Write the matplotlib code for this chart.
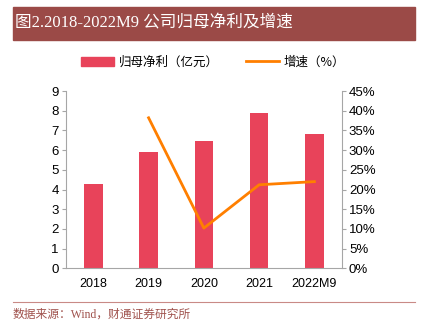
import matplotlib.pyplot as plt
from matplotlib.patches import Rectangle
from matplotlib.lines import Line2D

plt.rcParams['font.family'] = ['Liberation Sans', 'Noto Sans CJK SC', 'DejaVu Sans']

years = ["2018", "2019", "2020", "2021", "2022M9"]
profit = [4.26, 5.89, 6.48, 7.87, 6.82]          # 归母净利（亿元）
growth = [None, 38.2, 10.2, 21.2, 22.0]          # 增速（%）

bar_color = "#E8435A"
line_color = "#FF7F00"
grey = "#A6A6A6"

fig = plt.figure(figsize=(4.25, 3.33), dpi=100)
W, H = 425, 333

ax = fig.add_axes([65.7 / W, 1 - 268.3 / H, (342 - 65.7) / W, (268.3 - 91) / H])
x = list(range(len(years)))
ax.bar(x, profit, width=0.335, color=bar_color, zorder=2)
ax.set_xlim(-0.5, 4.5)
ax.set_ylim(0, 9)
ax.set_yticks(range(10))
ax.set_xticks(x)
ax.set_xticklabels(years)
ax.tick_params(axis='x', length=0, pad=7, labelsize=9)
ax.tick_params(axis='y', length=3, color=grey, pad=2, labelsize=9.5)
for s in ['top', 'right']:
    ax.spines[s].set_visible(False)
for s in ['left', 'bottom']:
    ax.spines[s].set_color(grey)
    ax.spines[s].set_linewidth(0.8)

ax2 = ax.twinx()
gx = [i for i, g in zip(x, growth) if g is not None]
gy = [g for g in growth if g is not None]
ax2.plot(gx, gy, color=line_color, lw=2, zorder=3)
ax2.set_ylim(0, 45)
ax2.set_yticks(range(0, 50, 5))
ax2.set_yticklabels([f"{v}%" for v in range(0, 50, 5)])
ax2.tick_params(axis='y', length=3, color=grey, pad=2, labelsize=9.5)
for s in ['top', 'left', 'bottom']:
    ax2.spines[s].set_visible(False)
ax2.spines['right'].set_color(grey)
ax2.spines['right'].set_linewidth(0.8)

# title bar
fig.patches.append(Rectangle((13 / W, 1 - 40 / H), (415 - 13) / W, 33 / H,
                             transform=fig.transFigure, color="#9B4A47", zorder=0))
fig.text(15 / W, 1 - 23 / H, "图2.2018-2022M9 公司归母净利及增速", color="white",
         fontsize=12, va='center', ha='left', family=['Liberation Serif', 'Noto Sans CJK SC'])

# legend
leg_items = [Rectangle((0, 0), 1, 1, color=bar_color),
             Line2D([0], [0], color=line_color, lw=2)]
fig.legend(leg_items, ["归母净利（亿元）", "增速（%）"], loc='center',
           bbox_to_anchor=(213 / W, 1 - 62 / H), ncol=2, frameon=False,
           handlelength=2.6, columnspacing=2.2, handletextpad=0.4,
           prop={'family': ['Noto Sans CJK SC'], 'size': 9})

# footer
fig.add_artist(Line2D([13 / W, 415 / W], [1 - 301.5 / H, 1 - 301.5 / H],
                      transform=fig.transFigure, color="#C98A86", lw=0.8))
fig.text(13 / W, 1 - 315 / H, "数据来源：Wind，财通证券研究所", color="#A0524D",
         fontsize=8.5, va='center', ha='left', family=['Liberation Serif', 'Noto Sans CJK SC'])

fig.savefig("out.png", dpi=100)
